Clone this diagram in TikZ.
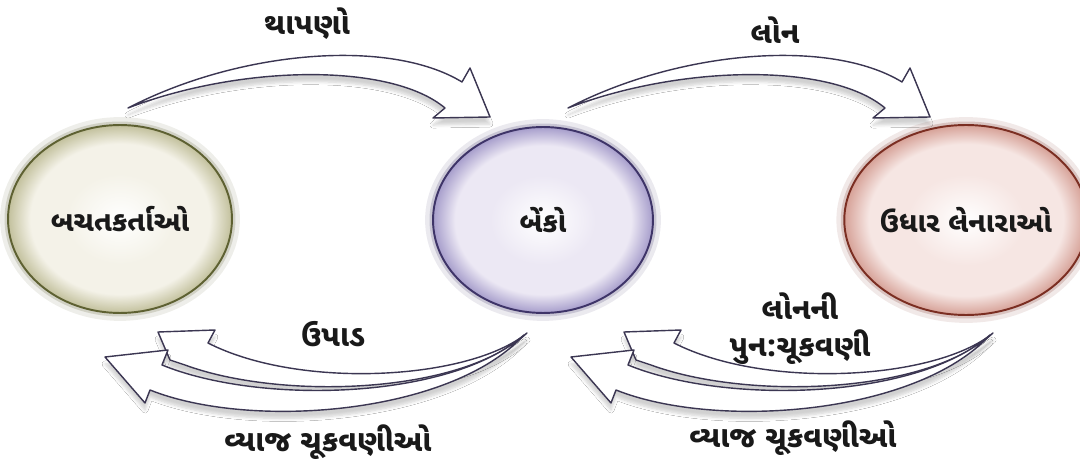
\documentclass[tikz,border=0pt]{standalone}
\usepackage{fontspec}
\usetikzlibrary{shapes.geometric,shadows.blur}
\newfontfamily\gujfont[Script=Gujarati]{Noto Sans Gujarati UI}
\definecolor{savefill}{HTML}{F4F2E8}
\definecolor{saveglow}{HTML}{C2C09C}
\definecolor{saverim}{HTML}{5E6132}
\definecolor{bankfill}{HTML}{ECE8F4}
\definecolor{bankglow}{HTML}{A69DCB}
\definecolor{bankrim}{HTML}{3E3468}
\definecolor{loanfill}{HTML}{F6E6E3}
\definecolor{loanglow}{HTML}{D6A197}
\definecolor{loanrim}{HTML}{7B2E22}
\definecolor{arrowline}{HTML}{3B3652}
\pgfdeclareradialshading{saveshade}{\pgfpointorigin}{color(0bp)=(white);color(12bp)=(savefill);color(20bp)=(savefill);color(25bp)=(saveglow);color(50bp)=(saveglow)}
\pgfdeclareradialshading{bankshade}{\pgfpointorigin}{color(0bp)=(white);color(12bp)=(bankfill);color(20bp)=(bankfill);color(25bp)=(bankglow);color(50bp)=(bankglow)}
\pgfdeclareradialshading{loanshade}{\pgfpointorigin}{color(0bp)=(white);color(12bp)=(loanfill);color(20bp)=(loanfill);color(25bp)=(loanglow);color(50bp)=(loanglow)}
\tikzset{
  party/.style={ellipse, inner sep=0pt, line width=1.1pt, text=black!90,
    font=\gujfont\bfseries\fontsize{16}{19}\selectfont},
  glow/.style={preaction={draw=#1, line width=9pt, draw opacity=0.10},
    preaction={draw=#1, line width=4pt, draw opacity=0.20}},
  hollow/.style={draw=arrowline, fill=white, line width=0.8pt, line join=round,
    blur shadow={shadow xshift=0pt, shadow yshift=-4pt, shadow opacity=18, shadow blur steps=6}},
  flowlbl/.style={text=black!90, align=center,
    font=\gujfont\bfseries\fontsize{17}{21}\selectfont},
}
\begin{document}
\begin{tikzpicture}[x=0.02cm, y=-0.02cm]
    \fill[white] (0,0) rectangle (1080,466);
    \useasboundingbox (0,0) rectangle (1080,466);
    \node[party, draw=saverim, shading=saveshade, glow=saverim,
      minimum width=4.48cm, minimum height=3.76cm] (savers) at (120,219) {બચતકર્તાઓ};
    \node[party, draw=bankrim, shading=bankshade, glow=bankrim,
      minimum width=4.4cm, minimum height=3.72cm] (banks) at (543,220) {બેંકો};
    \node[party, draw=loanrim, shading=loanshade, glow=loanrim,
      minimum width=4.42cm, minimum height=3.8cm] (borrowers) at (966,220) {ઉધાર લેનારાઓ};
    \foreach \dx in {0,440}
      \draw[hollow, shift={(\dx,0)}] (128,108) .. controls (240,50) and (390,38) .. (462,82)
        -- (470,68) -- (490,117) -- (433,118) -- (445,108)
        .. controls (390,62) and (240,65) .. cycle;
    \foreach \dx in {0,466} {
      \draw[hollow, shift={(\dx,0)}] (527,333) .. controls (470,380) and (300,390) .. (208,343)
        -- (215,330) -- (158,332) -- (170,360) -- (185,365)
        .. controls (280,400) and (460,395) .. cycle;
      \draw[hollow, shift={(\dx,0)}] (524,335) .. controls (450,400) and (260,405) .. (162,365)
        -- (168,350) -- (105,357) -- (145,403) -- (150,390)
        .. controls (250,430) and (450,415) .. cycle;
    }
    \node[flowlbl] (deposits) at (307,24) {થાપણો};
    \node[flowlbl] (loans) at (775,30) {લોન};
    \node[flowlbl] (withdraw) at (333,334) {ઉપાડ};
    \node[flowlbl] (repay) at (800,329) {લોનની\\પુન:ચૂકવણી};
    \node[flowlbl] (intleft) at (328,442) {વ્યાજ ચૂકવણીઓ};
    \node[flowlbl] (intright) at (793,438) {વ્યાજ ચૂકવણીઓ};
\end{tikzpicture}
\end{document}
